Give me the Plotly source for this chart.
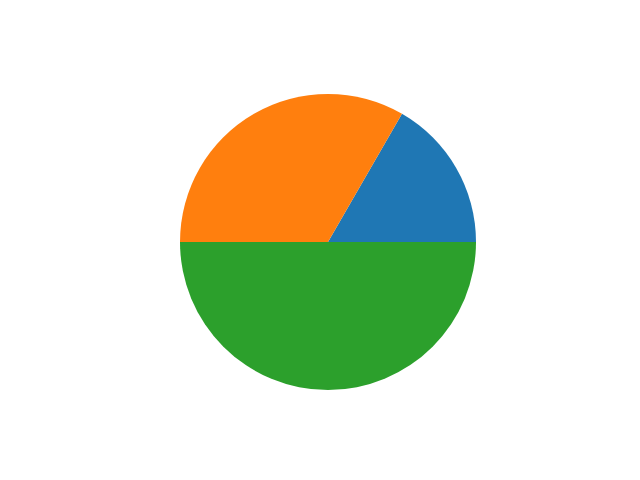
import plotly.graph_objects as go

# slice sizes, drawn counter-clockwise from 3 o'clock
labels = ["A", "B", "C"]
sizes = [1, 2, 3]
colors = ["#1f77b4", "#ff7f0e", "#2ca02c"]

cx, cy, r = 320, 246, 148  # pixel centre (from bottom) and radius

fig = go.Figure()
fig.add_trace(go.Pie(
    labels=labels,
    values=sizes,
    sort=False,
    direction="counterclockwise",
    rotation=30,
    marker=dict(colors=colors, line=dict(width=0)),
    textinfo="none",
    hoverinfo="label+value",
    domain=dict(x=[(cx - r) / 640, (cx + r) / 640],
                y=[(cy - r) / 480, (cy + r) / 480]),
))

fig.update_layout(
    width=640, height=480,
    margin=dict(l=0, r=0, t=0, b=0),
    showlegend=False,
    paper_bgcolor="white",
    plot_bgcolor="white",
)

fig.write_html("out.html")
